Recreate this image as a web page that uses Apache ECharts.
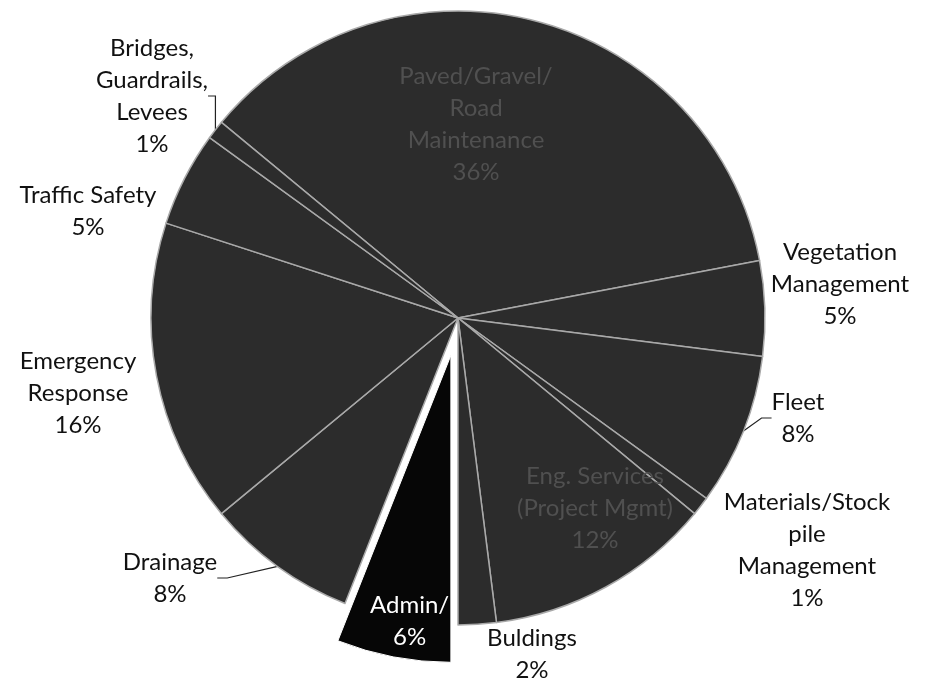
<!DOCTYPE html>
<html>
<head>
<meta charset="utf-8">
<script src="https://cdn.jsdelivr.net/npm/echarts@6/dist/echarts.min.js"></script>
<style>
  html, body { margin: 0; padding: 0; background: #fff; }
  #chart { width: 929px; height: 682px; }
</style>
</head>
<body>
<div id="chart"></div>
<script>
// slice names (line breaks as printed on the chart)
const categories = [
  'Paved/Gravel/\nRoad\nMaintenance',
  'Vegetation\nManagement',
  'Fleet',
  'Materials/Stock\npile\nManagement',
  'Eng. Services\n(Project Mgmt)',
  'Buldings',
  'Admin/',
  'Drainage',
  'Emergency\nResponse',
  'Traffic Safety',
  'Bridges,\nGuardrails,\nLevees'
]
// percent of budget
const values = [36, 5, 8, 1, 12, 2, 6, 8, 16, 5, 1]

// label placement (layout only); the exploded slice's label is nudged from its inside spot
const labelPos = [
  [476, 124], [840, 284], [798, 418], [807, 550], [595, 508], [532, 654],
  null, [170, 578], [78, 393], [88, 211], [152, 96]
]
const explodedNudge = [-12, 112]
const insideLabels = [0, 4, 6]
const leaderLines = [2, 7, 10]
const exploded = 6

const chart = echarts.init(document.getElementById('chart'))

const data = categories.map((name, i) => {
  const item = { name, value: values[i] }
  if (i === exploded) {
    item.selected = true
    item.itemStyle = { color: '#060606', borderColor: '#fff', borderWidth: 1 }
    item.label = { color: '#fff', position: 'inside' }
  } else if (insideLabels.indexOf(i) !== -1) {
    item.label = { color: '#505050' }
  }
  if (leaderLines.indexOf(i) !== -1) {
    item.labelLine = { show: true }
  }
  return item
})

chart.setOption({
  animation: false,
  series: [{
    type: 'pie',
    center: [458, 318],
    radius: 307,
    startAngle: 140.4,
    clockwise: true,
    selectedMode: 'single',
    selectedOffset: 38,
    avoidLabelOverlap: false,
    silent: true,
    itemStyle: {
      color: '#2c2c2c',
      borderColor: '#a9a9a9',
      borderWidth: 1.5
    },
    select: {
      itemStyle: { color: '#060606', borderColor: '#fff', borderWidth: 1 }
    },
    label: {
      show: true,
      position: 'outside',
      formatter: '{b}\n{c}%',
      fontFamily: 'Lato',
      fontSize: 24,
      lineHeight: 32,
      color: '#111',
      align: 'center',
      overflow: 'none'
    },
    labelLine: {
      show: false,
      length: 10,
      length2: 10,
      lineStyle: { color: '#222', width: 1.2 }
    },
    labelLayout: (params) => {
      const p = labelPos[params.dataIndex]
      if (!p) {
        return { dx: explodedNudge[0], dy: explodedNudge[1] }
      }
      return { x: p[0], y: p[1], align: 'center', verticalAlign: 'middle' }
    },
    data
  }]
})
</script>
</body>
</html>
